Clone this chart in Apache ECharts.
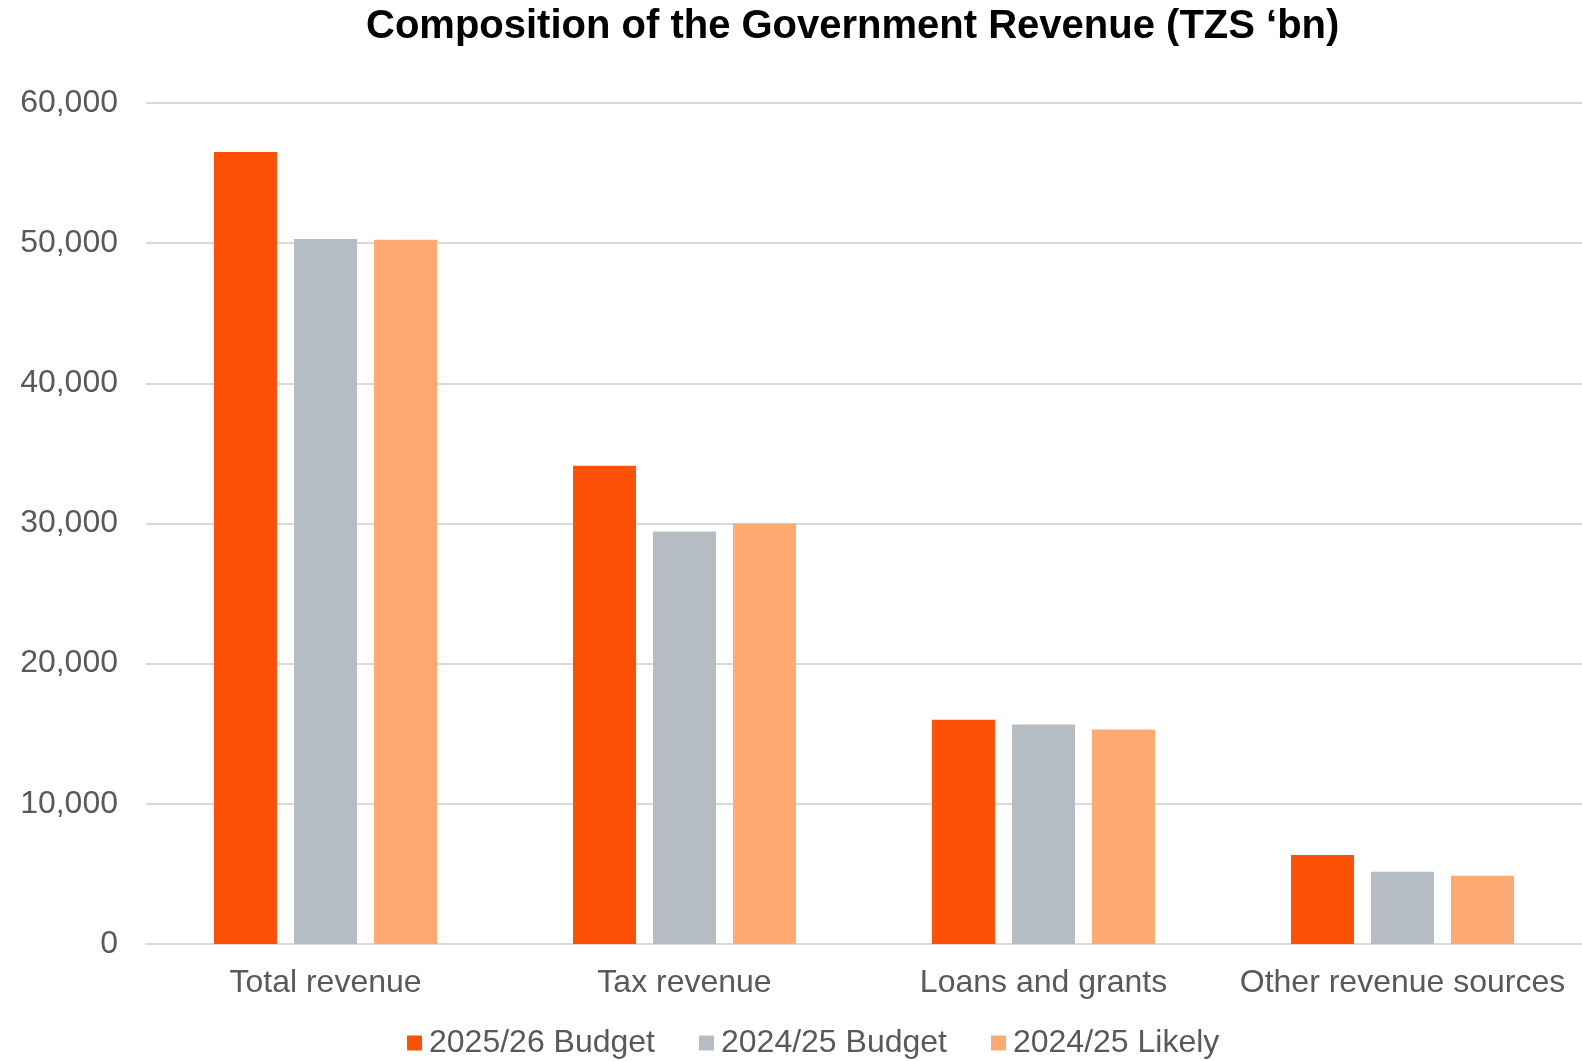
<!DOCTYPE html>
<html>
<head>
<meta charset="utf-8">
<script src="https://cdn.jsdelivr.net/npm/echarts@6/dist/echarts.min.js"></script>
<style>
  html, body { margin: 0; padding: 0; background: #fff; }
  #chart { width: 1582px; height: 1061px; }
</style>
</head>
<body>
<div id="chart"></div>
<script>
// categories and values (TZS 'bn)
const categories = ['Total revenue', 'Tax revenue', 'Loans and grants', 'Other revenue sources']
const seriesNames = ['2025/26 Budget', '2024/25 Budget', '2024/25 Likely']
const budget2526 = [56500, 34120, 16000, 6350]
const budget2425 = [50300, 29430, 15660, 5160]
const likely2425 = [50240, 30000, 15310, 4870]
const yTicks = [0, 10000, 20000, 30000, 40000, 50000, 60000]

const colors = ['#FD5108', '#B5BCC4', '#FFAA72']
const font = 'Liberation Sans, Arial, sans-serif'

const chart = echarts.init(document.getElementById('chart'))
const option = {
  animation: false,
  color: colors,
  title: {
    text: 'Composition of the Government Revenue (TZS \u2018bn)',
    left: 361,
    top: 2,
    textStyle: { fontFamily: font, fontSize: 40, fontWeight: 'bold', color: '#000' }
  },
  legend: {
    data: seriesNames,
    left: 402,
    top: 1022,
    itemWidth: 15,
    itemHeight: 15,
    itemGap: 44,
    icon: 'rect',
    textStyle: { fontFamily: font, fontSize: 32, color: '#595959', padding: [0, 0, 0, 2] }
  },
  grid: { // 调整图表位置
    left: 146,
    right: 0,
    top: 103,
    bottom: 117,
    containLabel: false
  },
  xAxis: {
    type: 'category',
    data: categories,
    axisTick: { show: false },
    axisLine: { lineStyle: { color: '#d9d9d9', width: 2 } },
    axisLabel: { fontFamily: font, fontSize: 32, color: '#595959', margin: 23, interval: 0 }
  },
  yAxis: {
    type: 'value',
    min: yTicks[0],
    max: yTicks[yTicks.length - 1],
    interval: 10000,
    axisLine: { show: false },
    axisTick: { show: false },
    splitLine: { lineStyle: { color: '#d9d9d9', width: 2 } },
    axisLabel: {
      fontFamily: font, fontSize: 32, color: '#595959', margin: 28,
      formatter: v => v.toLocaleString('en-US')
    }
  },
  series: []
}
const datas = [budget2526, budget2425, likely2425]
for (let i = 0; i < datas.length; i++) {
  option.series.push({
    name: seriesNames[i],
    type: 'bar',
    data: datas[i],
    barWidth: 63,
    barGap: '27%'
  })
}
chart.setOption(option)
</script>
</body>
</html>
